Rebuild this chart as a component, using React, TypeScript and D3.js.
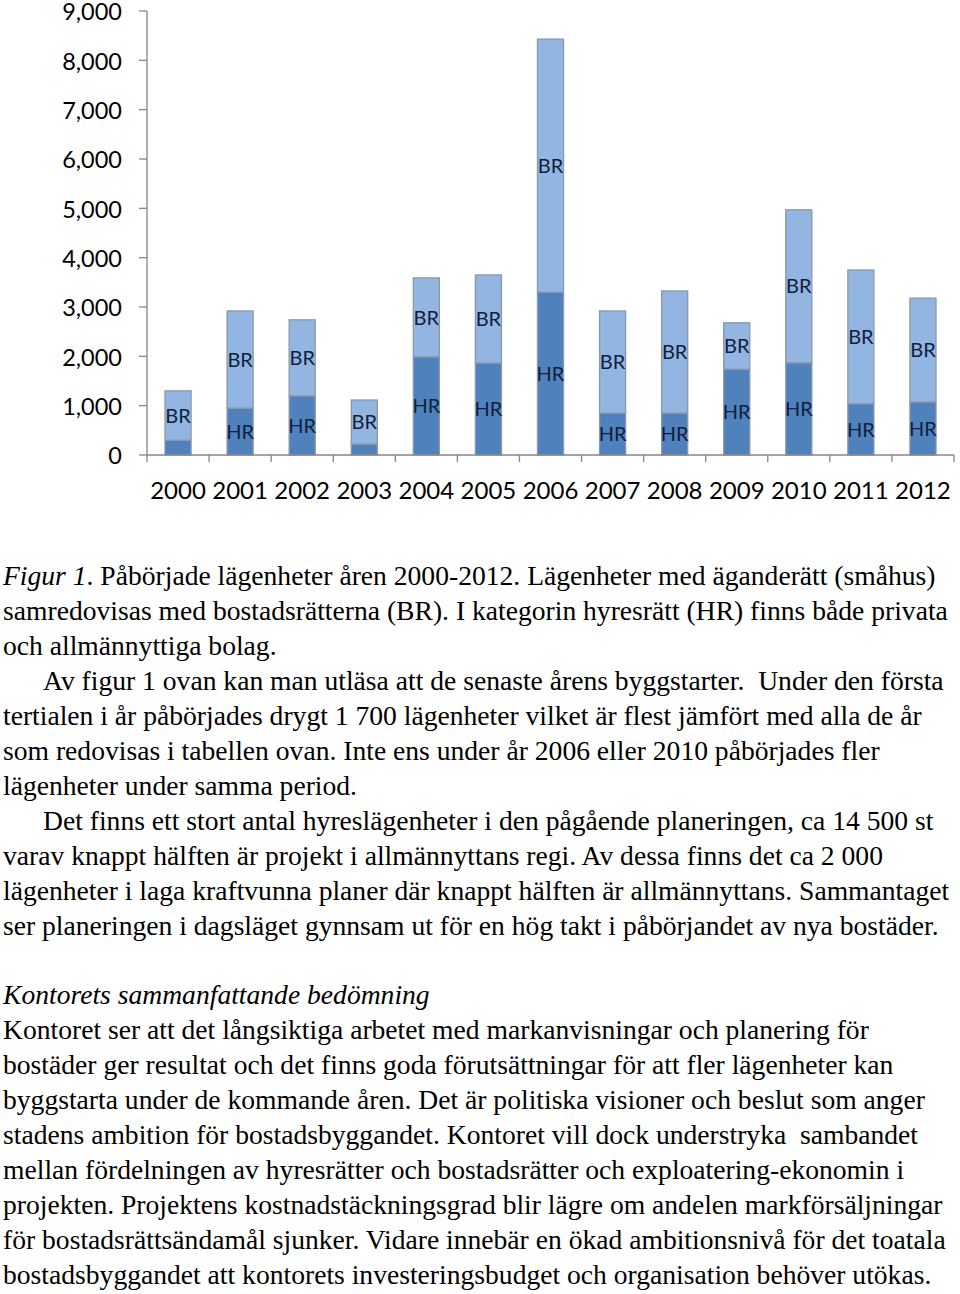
import React from "react";
import * as d3 from "d3";

const years = ["2000","2001","2002","2003","2004","2005","2006","2007","2008","2009","2010","2011","2012"];
const hrValues = [300, 950, 1200, 220, 1990, 1865, 3300, 850, 850, 1740, 1870, 1040, 1075];
const brValues = [1000, 1970, 1540, 895, 1600, 1785, 5130, 2070, 2475, 940, 3100, 2710, 2105];
const yTicks = [0, 1000, 2000, 3000, 4000, 5000, 6000, 7000, 8000, 9000];
const seriesNames = ["HR", "BR"];

type Run = { t: string; i?: boolean };
const textLines: { runs: Run[]; indent?: boolean; gapBefore?: boolean }[] = [
  { runs: [{ t: "Figur 1", i: true }, { t: ". Påbörjade lägenheter åren 2000-2012. Lägenheter med äganderätt (småhus)" }] },
  { runs: [{ t: "samredovisas med bostadsrätterna (BR). I kategorin hyresrätt (HR) finns både privata" }] },
  { runs: [{ t: "och allmännyttiga bolag." }] },
  { indent: true, runs: [{ t: "Av figur 1 ovan kan man utläsa att de senaste årens byggstarter.  Under den första" }] },
  { runs: [{ t: "tertialen i år påbörjades drygt 1 700 lägenheter vilket är flest jämfört med alla de år" }] },
  { runs: [{ t: "som redovisas i tabellen ovan. Inte ens under år 2006 eller 2010 påbörjades fler" }] },
  { runs: [{ t: "lägenheter under samma period." }] },
  { indent: true, runs: [{ t: "Det finns ett stort antal hyreslägenheter i den pågående planeringen, ca 14 500 st" }] },
  { runs: [{ t: "varav knappt hälften är projekt i allmännyttans regi. Av dessa finns det ca 2 000" }] },
  { runs: [{ t: "lägenheter i laga kraftvunna planer där knappt hälften är allmännyttans. Sammantaget" }] },
  { runs: [{ t: "ser planeringen i dagsläget gynnsam ut för en hög takt i påbörjandet av nya bostäder." }] },
  { gapBefore: true, runs: [{ t: "Kontorets sammanfattande bedömning", i: true }] },
  { runs: [{ t: "Kontoret ser att det långsiktiga arbetet med markanvisningar och planering för" }] },
  { runs: [{ t: "bostäder ger resultat och det finns goda förutsättningar för att fler lägenheter kan" }] },
  { runs: [{ t: "byggstarta under de kommande åren. Det är politiska visioner och beslut som anger" }] },
  { runs: [{ t: "stadens ambition för bostadsbyggandet. Kontoret vill dock understryka  sambandet" }] },
  { runs: [{ t: "mellan fördelningen av hyresrätter och bostadsrätter och exploatering-ekonomin i" }] },
  { runs: [{ t: "projekten. Projektens kostnadstäckningsgrad blir lägre om andelen markförsäljningar" }] },
  { runs: [{ t: "för bostadsrättsändamål sjunker. Vidare innebär en ökad ambitionsnivå för det toatala" }] },
  { runs: [{ t: "bostadsbyggandet att kontorets investeringsbudget och organisation behöver utökas." }] },
];

const W = 960;
const H = 1294;
const axisX = 147;
const axisRight = 954;
const yTop = 11;
const yBottom = 455;
const chartFont = "Lato, 'Open Sans', sans-serif";
const colors: Record<string, string> = { HR: "#4F81BD", BR: "#93B5E2" };
const axisColor = "#868686";

export default function App() {
  const x = d3.scaleBand<string>().domain(years).range([axisX, axisRight]).paddingInner(0.58).paddingOuter(0.29);
  const y = d3.scaleLinear().domain([0, 9000]).range([yBottom, yTop]);
  const step = (axisRight - axisX) / years.length;

  const rows = years.map((yr, i) => ({ year: yr, HR: hrValues[i], BR: brValues[i] }));
  const stacked = d3.stack<any>().keys(seriesNames)(rows);

  const lineStep = 35;
  let baseline = 585;
  const lineYs: number[] = [];
  textLines.forEach((l, i) => {
    if (i > 0) baseline += l.gapBefore ? 69 : lineStep;
    lineYs.push(baseline);
  });

  return (
    <svg width={W} height={H} style={{ position: "absolute", left: 0, top: 0, display: "block", background: "#fff" }}>
      {stacked.map((s) => (
        <g key={s.key}>
          {s.map((d, i) => {
            const x0 = x(years[i])!;
            const y0 = y(d[1]);
            const h = y(d[0]) - y(d[1]);
            const v = d[1] - d[0];
            return (
              <g key={i}>
                <rect x={x0} y={y0} width={x.bandwidth()} height={h} fill={colors[s.key]} stroke="#8c98a8" strokeWidth={1.3} />
                {v >= 500 && (
                  <text x={x0 + x.bandwidth() / 2} y={y0 + h / 2} dy="0.36em" textAnchor="middle" fontFamily={chartFont} fontSize={20} fill="#0f1f3d">
                    {s.key}
                  </text>
                )}
              </g>
            );
          })}
        </g>
      ))}
      <line x1={axisX} x2={axisX} y1={yTop} y2={yBottom} stroke={axisColor} strokeWidth={1.3} />
      {yTicks.map((t) => (
        <g key={t}>
          <line x1={axisX - 8} x2={axisX} y1={y(t)} y2={y(t)} stroke={axisColor} strokeWidth={1.3} />
          <text x={122} y={y(t) + 1} dy="0.36em" textAnchor="end" fontFamily={chartFont} fontSize={23.5} fill="#000">
            {d3.format(",")(t)}
          </text>
        </g>
      ))}
      <line x1={axisX} x2={axisRight} y1={yBottom} y2={yBottom} stroke={axisColor} strokeWidth={1.3} />
      {d3.range(years.length + 1).map((k) => (
        <line key={k} x1={axisX + k * step} x2={axisX + k * step} y1={yBottom} y2={yBottom + 7} stroke={axisColor} strokeWidth={1.3} />
      ))}
      {years.map((yr) => (
        <text key={yr} x={x(yr)! + x.bandwidth() / 2} y={490} dy="0.36em" textAnchor="middle" fontFamily={chartFont} fontSize={24} fill="#000">
          {yr}
        </text>
      ))}
      {textLines.map((l, i) => (
        <text key={i} x={l.indent ? 43 : 3} y={lineYs[i]} fontFamily="'Liberation Serif', 'Times New Roman', serif" fontSize={27.6} fill="#000" style={{ whiteSpace: "pre" }}>
          {l.runs.map((r, j) => (
            <tspan key={j} fontStyle={r.i ? "italic" : "normal"}>{r.t}</tspan>
          ))}
        </text>
      ))}
    </svg>
  );
}
